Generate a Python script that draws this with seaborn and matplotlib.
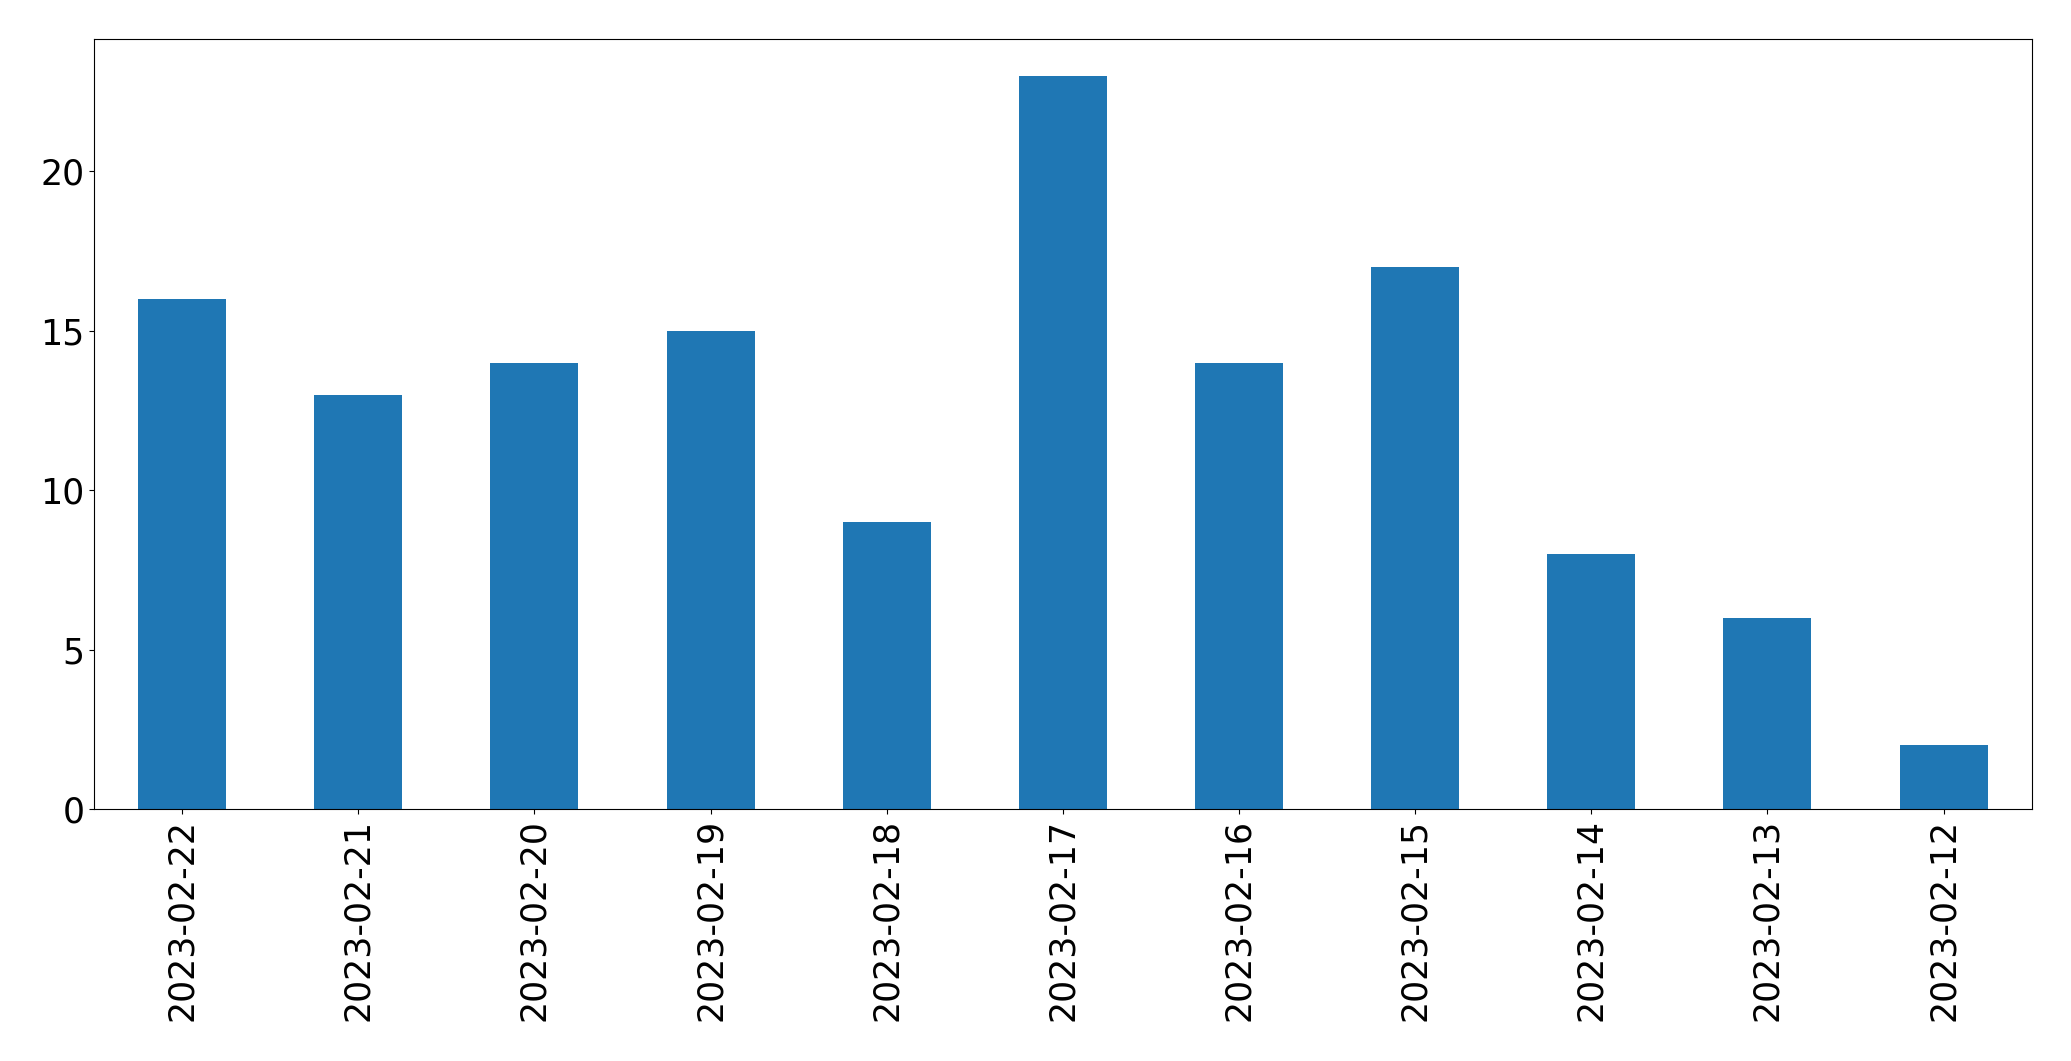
import matplotlib as mpl
import pandas as pd
import seaborn as sns
from matplotlib import pyplot as plt

dates = ['2023-02-22', '2023-02-21', '2023-02-20', '2023-02-19',
         '2023-02-18', '2023-02-17', '2023-02-16', '2023-02-15',
         '2023-02-14', '2023-02-13', '2023-02-12']
counts = [16, 13, 14, 15, 9, 23, 14, 17, 8, 6, 2]

sns.set_theme(style='white', context='notebook')
mpl.rcParams['font.family'] = ['DejaVu Sans']
mpl.rcParams['axes.edgecolor'] = 'black'
mpl.rcParams['axes.linewidth'] = 0.8
mpl.rcParams['xtick.bottom'] = True
mpl.rcParams['ytick.left'] = True
mpl.rcParams['xtick.major.size'] = 3.5
mpl.rcParams['ytick.major.size'] = 3.5
mpl.rcParams['xtick.major.width'] = 0.8
mpl.rcParams['ytick.major.width'] = 0.8
mpl.rcParams['xtick.color'] = 'black'
mpl.rcParams['ytick.color'] = 'black'

df = pd.DataFrame({'date': dates, 'count': counts})

fig, ax = plt.subplots(figsize=(20.71, 10.61), dpi=100)
sns.barplot(ax=ax, data=df, x='date', y='count', color='#1f77b4',
            saturation=1, width=0.5, linewidth=0)
ax.set(xlabel='', ylabel='')
ax.set_xlim(-0.5, len(dates) - 0.5)
ax.set_ylim(0, max(counts) * 1.05)
ax.tick_params(axis='both', labelsize=25, colors='black')
plt.setp(ax.get_xticklabels(), rotation=90)
fig.subplots_adjust(left=0.0454, right=0.981, top=0.9632, bottom=0.2375)
fig.savefig('out.png', dpi=100)
